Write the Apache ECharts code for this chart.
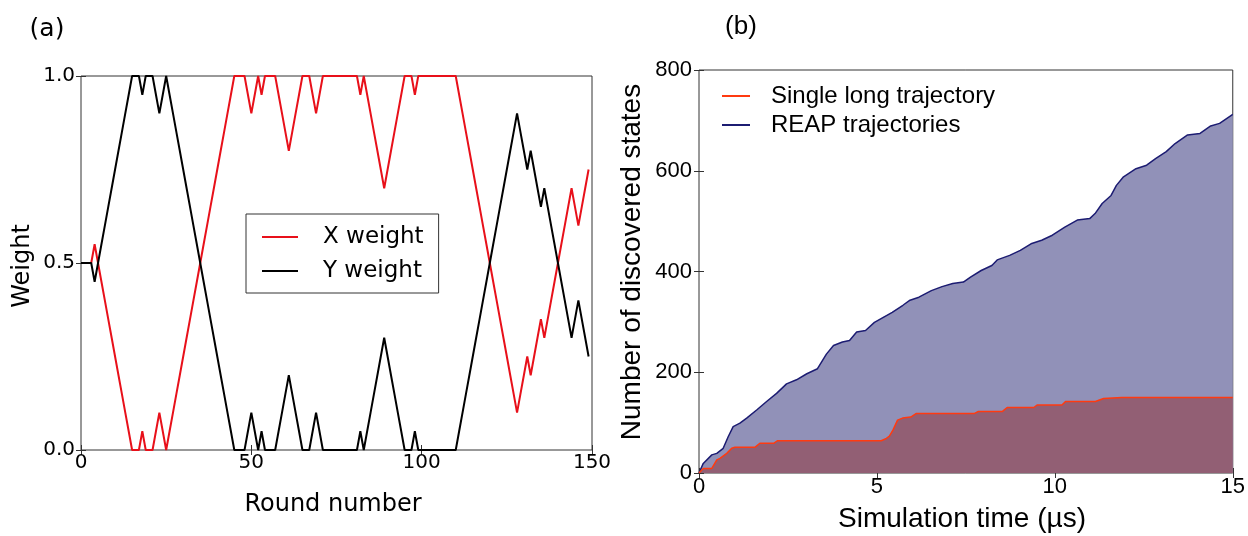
<!DOCTYPE html>
<html>
<head>
<meta charset="utf-8">
<script src="https://cdn.jsdelivr.net/npm/echarts@6/dist/echarts.min.js"></script>
<style>html,body{margin:0;padding:0;background:#fff;}#c{width:1248px;height:536px;}</style>
</head>
<body>
<div id="c"></div>
<script>
// ---- Panel (a): weights per round (rounds 0..149) ----
const xWeight = [
0.5,0.5,0.5,0.5,0.55,0.5,0.45,0.4,0.35,0.3,
0.25,0.2,0.15,0.1,0.05,0,0,0,0.05,0,
0,0,0.05,0.1,0.05,0,0.05,0.1,0.15,0.2,
0.25,0.3,0.35,0.4,0.45,0.5,0.55,0.6,0.65,0.7,
0.75,0.8,0.85,0.9,0.95,1,1,1,1,0.95,
0.9,0.95,1,0.95,1,1,1,1,0.95,0.9,
0.85,0.8,0.85,0.9,0.95,1,1,1,0.95,0.9,
0.95,1,1,1,1,1,1,1,1,1,
1,1,0.95,1,0.95,0.9,0.85,0.8,0.75,0.7,
0.75,0.8,0.85,0.9,0.95,1,1,1,0.95,1,
1,1,1,1,1,1,1,1,1,1,
1,0.95,0.9,0.85,0.8,0.75,0.7,0.65,0.6,0.55,
0.5,0.45,0.4,0.35,0.3,0.25,0.2,0.15,0.1,0.15,
0.2,0.25,0.2,0.25,0.3,0.35,0.3,0.35,0.4,0.45,
0.5,0.55,0.6,0.65,0.7,0.65,0.6,0.65,0.7,0.75
];
const yWeight = [
0.5,0.5,0.5,0.5,0.45,0.5,0.55,0.6,0.65,0.7,
0.75,0.8,0.85,0.9,0.95,1,1,1,0.95,1,
1,1,0.95,0.9,0.95,1,0.95,0.9,0.85,0.8,
0.75,0.7,0.65,0.6,0.55,0.5,0.45,0.4,0.35,0.3,
0.25,0.2,0.15,0.1,0.05,0,0,0,0,0.05,
0.1,0.05,0,0.05,0,0,0,0,0.05,0.1,
0.15,0.2,0.15,0.1,0.05,0,0,0,0.05,0.1,
0.05,0,0,0,0,0,0,0,0,0,
0,0,0.05,0,0.05,0.1,0.15,0.2,0.25,0.3,
0.25,0.2,0.15,0.1,0.05,0,0,0,0.05,0,
0,0,0,0,0,0,0,0,0,0,
0,0.05,0.1,0.15,0.2,0.25,0.3,0.35,0.4,0.45,
0.5,0.55,0.6,0.65,0.7,0.75,0.8,0.85,0.9,0.85,
0.8,0.75,0.8,0.75,0.7,0.65,0.7,0.65,0.6,0.55,
0.5,0.45,0.4,0.35,0.3,0.35,0.4,0.35,0.3,0.25
];
const rounds = xWeight.map((_, i) => i);
const roundTicks = [0, 50, 100, 150];
const weightTicks = ['0.0', '0.5', '1.0'];

// ---- Panel (b): discovered states vs simulation time (µs) ----
const tSingle = [0,0.12,0.36,0.5,0.59,0.78,0.92,1.01,1.57,1.71,2.1,2.2,5.12,5.25,5.35,5.45,5.58,5.72,5.95,6.1,7.73,7.85,8.52,8.66,9.41,9.5,10.2,10.3,11.14,11.37,11.88,15];
const vSingle = [0,9,9,26,29,39,49,51,51,59,59,64,64,68,73,85,105,109,111,118,118,122,122,130,130,135,135,142,142,148,150,150];
const tReap = [0,0.12,0.36,0.5,0.68,0.82,0.96,1.15,1.34,1.62,1.9,2.18,2.46,2.74,3.03,3.33,3.58,3.78,4.03,4.23,4.43,4.68,4.93,5.18,5.43,5.73,5.93,6.18,6.53,6.83,7.13,7.43,7.63,7.93,8.23,8.38,8.73,9.03,9.33,9.63,9.93,10.28,10.63,10.98,11.13,11.33,11.58,11.73,11.93,12.28,12.58,12.83,13.13,13.38,13.73,14.08,14.38,14.63,15];
const vReap = [0,19,36,39,49,72,92,99,109,125,142,158,177,185,197,207,236,253,260,263,280,283,299,309,319,333,343,349,362,370,376,379,389,402,412,423,432,442,455,462,472,488,502,505,515,535,551,571,588,604,611,624,638,654,671,674,689,694,712];
const timeTicks = [0, 5, 10, 15];
const stateTicks = [0, 200, 400, 600, 800];

const chart = echarts.init(document.getElementById('c'), null, {renderer: 'canvas'});

const FA = 'DejaVu Sans';
const FB = 'Liberation Sans, Arial, sans-serif';
const frame = '#333';

function xAx(grid, pos, min, max, interval, ff, fs, show, margin) {
  return {type: 'value', gridIndex: grid, position: pos, min: min, max: max, interval: interval,
    axisLine: {show: false}, splitLine: {show: false},
    axisTick: {show: true, inside: true, length: 5, lineStyle: {color: frame, width: 1}},
    axisLabel: {show: show, fontFamily: ff, fontSize: fs, color: '#000', margin: margin}};
}

const option = {
  animation: false,
  backgroundColor: '#fff',
  grid: [
    {left: 81, top: 76, width: 511, height: 374, show: true, borderColor: frame, borderWidth: 1, backgroundColor: 'transparent'},
    {left: 699, top: 70, width: 536, height: 403, show: true, borderColor: frame, borderWidth: 1, backgroundColor: 'transparent'}
  ],
  xAxis: [
    xAx(0, 'bottom', roundTicks[0], roundTicks[3], 50, FA, 20, true, 3),
    xAx(0, 'top', roundTicks[0], roundTicks[3], 50, FA, 20, false, 3),
    xAx(1, 'bottom', timeTicks[0], timeTicks[3], 5, FB, 22, true, 3),
    xAx(1, 'top', timeTicks[0], timeTicks[3], 5, FB, 22, false, 3)
  ],
  yAxis: [
    Object.assign(xAx(0, 'left', 0, 1, 0.5, FA, 20, true, 6), {axisLabel: {fontFamily: FA, fontSize: 20, color: '#000', margin: 6, formatter: v => weightTicks[Math.round(v * 2)]}}),
    xAx(0, 'right', 0, 1, 0.5, FA, 20, false, 6),
    xAx(1, 'left', stateTicks[0], stateTicks[4], 200, FB, 22, true, 7),
    xAx(1, 'right', stateTicks[0], stateTicks[4], 200, FB, 22, false, 7)
  ],
  legend: [
    {orient: 'vertical', left: 246, top: 214, padding: [11, 15, 10, 16], itemGap: 10,
     borderColor: frame, borderWidth: 1, backgroundColor: '#fff',
     icon: 'rect', itemWidth: 36, itemHeight: 2,
     textStyle: {fontFamily: FA, fontSize: 23, color: '#000', lineHeight: 24, padding: [0, 0, 0, 20]},
     data: ['X weight', 'Y weight']},
    {orient: 'vertical', left: 722, top: 82, padding: 0, itemGap: 1,
     icon: 'rect', itemWidth: 28, itemHeight: 2,
     textStyle: {fontFamily: FB, fontSize: 24, color: '#000', lineHeight: 28, padding: [0, 0, 0, 16]},
     data: ['Single long trajectory', 'REAP trajectories']}
  ],
  series: [
    {name: 'X weight', type: 'line', xAxisIndex: 0, yAxisIndex: 0, showSymbol: false, symbol: 'none',
     color: '#e8101a', lineStyle: {color: '#e8101a', width: 2}, itemStyle: {color: '#e8101a'}, z: 3,
     data: rounds.map((r, i) => [r, xWeight[i]])},
    {name: 'Y weight', type: 'line', xAxisIndex: 0, yAxisIndex: 0, showSymbol: false, symbol: 'none',
     color: '#000', lineStyle: {color: '#000', width: 2}, itemStyle: {color: '#000'}, z: 4,
     data: rounds.map((r, i) => [r, yWeight[i]])},
    {name: 'REAP trajectories', type: 'line', xAxisIndex: 2, yAxisIndex: 2, showSymbol: false, symbol: 'none',
     color: '#1c1c72', lineStyle: {color: '#1c1c72', width: 1.5}, itemStyle: {color: '#1c1c72'},
     areaStyle: {color: '#9191b8', opacity: 1}, z: 2,
     data: tReap.map((t, i) => [t, vReap[i]])},
    {name: 'Single long trajectory', type: 'line', xAxisIndex: 2, yAxisIndex: 2, showSymbol: false, symbol: 'none',
     color: '#ff3a10', lineStyle: {color: '#ff3a10', width: 1.5}, itemStyle: {color: '#ff3a10'},
     areaStyle: {color: '#925f74', opacity: 1}, z: 3,
     data: tSingle.map((t, i) => [t, vSingle[i]])}
  ],
  graphic: [
    {type: 'text', x: 47, y: 29, style: {text: '(a)', font: '25px "DejaVu Sans"', fill: '#000', textAlign: 'center', textVerticalAlign: 'middle'}},
    {type: 'text', x: 741, y: 27, style: {text: '(b)', font: '26px "Liberation Sans"', fill: '#000', textAlign: 'center', textVerticalAlign: 'middle'}},
    {type: 'text', x: 333, y: 505, style: {text: 'Round number', font: '24px "DejaVu Sans"', fill: '#000', textAlign: 'center', textVerticalAlign: 'middle'}},
    {type: 'text', x: 23, y: 266, rotation: Math.PI / 2, style: {text: 'Weight', font: '24px "DejaVu Sans"', fill: '#000', textAlign: 'center', textVerticalAlign: 'middle'}},
    {type: 'text', x: 962, y: 519, style: {text: 'Simulation time (µs)', font: '28px "Liberation Sans"', fill: '#000', textAlign: 'center', textVerticalAlign: 'middle'}},
    {type: 'text', x: 632, y: 262, rotation: Math.PI / 2, style: {text: 'Number of discovered states', font: '28px "Liberation Sans"', fill: '#000', textAlign: 'center', textVerticalAlign: 'middle'}}
  ]
};
chart.setOption(option);
</script>
</body>
</html>
